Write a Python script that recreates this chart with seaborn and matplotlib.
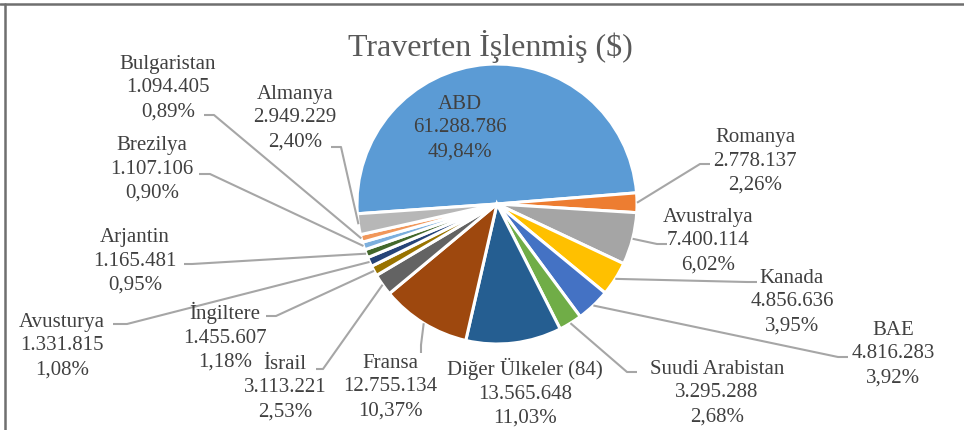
import numpy as np
import seaborn as sns
import matplotlib.pyplot as plt
from matplotlib.lines import Line2D

# data
countries = ["ABD", "Romanya", "Avustralya", "Kanada", "BAE", "Suudi Arabistan",
             "Diğer Ülkeler (84)", "Fransa", "İsrail", "İngiltere", "Avusturya",
             "Arjantin", "Brezilya", "Bulgaristan", "Almanya"]
values = [61288786, 2778137, 7400114, 4856636, 4816283, 3295288,
          13565648, 12755134, 3113221, 1455607, 1331815,
          1165481, 1107106, 1094405, 2949229]
colors = ["#5B9BD5", "#ED7D31", "#A5A5A5", "#FFC000", "#4472C4", "#70AD47",
          "#255E91", "#9E480E", "#636363", "#997300", "#264478",
          "#43682B", "#7CAFDD", "#F1975A", "#B7B7B7"]

W, H = 964, 431
# label layout in pixel coords (x, y from top): text centre, leader end, leader elbow
label_pos = {
    "ABD": (460, 128, None, None),
    "Romanya": (755, 161, (710, 165), (700, 165)),
    "Avustralya": (708, 241, (667, 245), (657, 245)),
    "Kanada": (792, 302, (757, 283), (747, 283)),
    "BAE": (893, 354, (848, 358), (838, 358)),
    "Suudi Arabistan": (717, 393, (637, 373), (627, 373)),
    "Diğer Ülkeler (84)": (525, 393, None, None),
    "Fransa": (390, 387, (421, 354), (421, 346)),
    "İsrail": (285, 388, (316, 370), (323, 370)),
    "İngiltere": (225, 337, (266, 317), (276, 317)),
    "Avusturya": (62, 346, (113, 325), (127, 325)),
    "Arjantin": (135, 261, (184, 265), (192, 265)),
    "Brezilya": (152, 169, (199, 175), (210, 175)),
    "Bulgaristan": (168, 88, (204, 116), (214, 116)),
    "Almanya": (295, 118, (331, 148), (341, 148)),
}

sns.set_theme(style="white")
plt.rcParams['font.family'] = ['Liberation Serif', 'DejaVu Serif']

fig = plt.figure(figsize=(W / 100, H / 100), dpi=100)
ax = fig.add_axes([0, 0, 1, 1])

cx, cy, r = 497, H - 205, 140
wedges, _ = ax.pie(values, colors=colors, startangle=184, counterclock=False,
                   center=(cx, cy), radius=r,
                   wedgeprops=dict(edgecolor="white", linewidth=2.2))

total = sum(values)
txt_col = "#404040"
line_col = "#A6A6A6"
for name, v, w in zip(countries, values, wedges):
    pct = v / total * 100
    label = f"{name}\n{v:,}".replace(",", ".") + "\n" + f"{pct:.2f}".replace(".", ",") + "%"
    tx, ty, end, elbow = label_pos[name]
    ax.text(tx, H - ty, label, ha="center", va="center", fontsize=15,
            color=txt_col, linespacing=1.35)
    if end is not None:
        ang = np.deg2rad((w.theta1 + w.theta2) / 2)
        ax_, ay_ = cx + r * np.cos(ang), cy + r * np.sin(ang)
        ax.plot([ax_, elbow[0], end[0]], [ay_, H - elbow[1], H - end[1]],
                color=line_col, lw=1.5, solid_capstyle="butt")

ax.text(490, H - 56, "Traverten İşlenmiş ($)", ha="center", va="baseline",
        fontsize=23, color="#595959")

ax.set_xlim(0, W)
ax.set_ylim(0, H)
ax.set_aspect("equal")
ax.axis("off")

# chart frame (top and left edges visible)
fig.add_artist(Line2D([0, 1], [1 - 5 / H, 1 - 5 / H], color="#6f6f6f", lw=1.8))
fig.add_artist(Line2D([5 / W, 5 / W], [0, 1 - 5 / H], color="#6f6f6f", lw=1.8))

fig.savefig("out.png", dpi=100)
